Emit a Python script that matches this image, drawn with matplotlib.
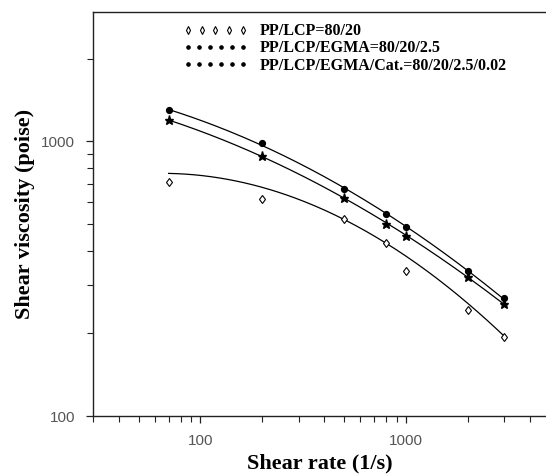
import numpy as np
import matplotlib
matplotlib.use("Agg")
import matplotlib.pyplot as plt
from matplotlib.lines import Line2D
from matplotlib.legend_handler import HandlerLine2D
from matplotlib.ticker import LogLocator, FixedLocator, NullFormatter

# Shear rate (1/s)
shear_rate = [70, 200, 500, 800, 1000, 2000, 3000]

# Shear viscosity (poise), measured points
visc_pp_lcp = [711, 617, 522, 427, 337, 243, 194]
visc_egma_cat = [1296, 987, 671, 546, 487, 337, 268]
visc_egma = [1192, 887, 623, 502, 454, 320, 256]

# Smoothed trend for PP/LCP at the same shear rates
trend_pp_lcp = [771, 667, 519, 433, 382, 258, 194]

labels = [
    "PP/LCP=80/20",
    "PP/LCP/EGMA=80/20/2.5",
    "PP/LCP/EGMA/Cat.=80/20/2.5/0.02",
]

fig = plt.figure(figsize=(5.46, 4.76), dpi=100)
ax = fig.add_axes([93 / 546, 60 / 476, 453 / 546, 404 / 476])

ax.set_xscale("log")
ax.set_yscale("log")
ax.set_xlim(30, 4800)
ax.set_ylim(100, 2960)


def fit_curve(x, y, n=200):
    lx, ly = np.log10(x), np.log10(y)
    coef = np.polyfit(lx, ly, 2)
    xs = np.linspace(lx.min(), lx.max(), n)
    return 10 ** xs, 10 ** np.polyval(coef, xs)


x = np.array(shear_rate, dtype=float)
for y in (trend_pp_lcp, visc_egma_cat, visc_egma):
    fx, fy = fit_curve(x, np.array(y, dtype=float))
    ax.plot(fx, fy, color="black", lw=0.9, zorder=2)

ax.plot(x, visc_pp_lcp, linestyle="none", marker="d", markersize=4.5,
        markerfacecolor="white", markeredgecolor="black", markeredgewidth=0.8, zorder=3)
ax.plot(x, visc_egma_cat, linestyle="none", marker="o", markersize=4.2,
        color="black", zorder=3)
ax.plot(x, visc_egma, linestyle="none", marker="*", markersize=6.5,
        color="black", zorder=3)

# Legend entries drawn as short rows of symbols
h1 = Line2D([], [], linestyle="none", marker="d", markersize=4, markerfacecolor="white",
            markeredgecolor="black", markeredgewidth=0.8)
h2 = Line2D([], [], linestyle="none", marker="o", markersize=2.3, color="black")
h3 = Line2D([], [], linestyle="none", marker="o", markersize=2.3, color="black")
leg = ax.legend(
    [h1, h2, h3], labels,
    handler_map={h1: HandlerLine2D(numpoints=5), h2: HandlerLine2D(numpoints=6),
                 h3: HandlerLine2D(numpoints=6)},
    loc="upper left", bbox_to_anchor=(0.175, 1.0), frameon=False,
    prop={"family": "Liberation Serif", "weight": "bold", "size": 11.5},
    handlelength=4.0, handletextpad=0.8, labelspacing=0.08, borderpad=0.2,
)

# Spines and ticks
ax.spines["right"].set_visible(False)
for s in ("left", "bottom", "top"):
    ax.spines[s].set_color("#222222")
    ax.spines[s].set_linewidth(1.0)

ax.xaxis.set_major_locator(FixedLocator([100, 1000]))
ax.xaxis.set_minor_locator(LogLocator(base=10, subs=np.arange(2, 10)))
ax.xaxis.set_minor_formatter(NullFormatter())
ax.yaxis.set_major_locator(FixedLocator([100, 1000]))
ax.yaxis.set_minor_locator(LogLocator(base=10, subs=np.arange(2, 10)))
ax.yaxis.set_minor_formatter(NullFormatter())
ax.set_xticklabels(["100", "1000"])
ax.set_yticklabels(["100", "1000"])

ax.tick_params(which="major", direction="out", length=5, width=0.9, color="#222222",
               labelsize=11, labelcolor="#555555", pad=8)
ax.tick_params(which="minor", direction="out", length=4, width=0.8, color="#222222")
for lab in ax.get_xticklabels() + ax.get_yticklabels():
    lab.set_family("Liberation Sans")

ax.set_xlabel("Shear rate (1/s)", family="Liberation Serif", weight="bold",
              fontsize=16, labelpad=4)
ax.set_ylabel("Shear viscosity (poise)", family="Liberation Serif", weight="bold",
              fontsize=16, labelpad=4)

fig.savefig("out.png", dpi=100)
